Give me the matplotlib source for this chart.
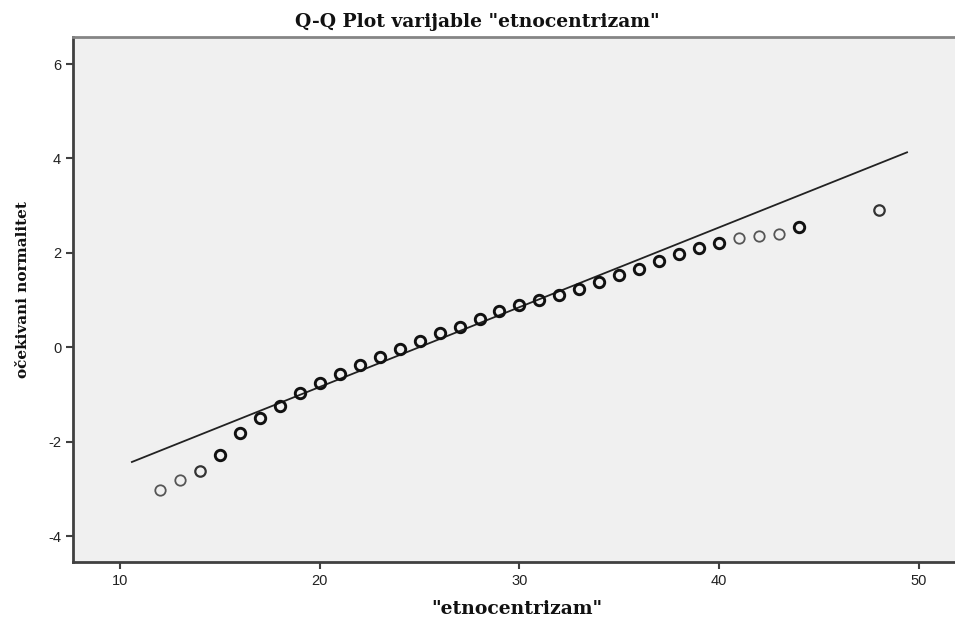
import matplotlib.pyplot as plt

plt.rcParams['axes.unicode_minus'] = False

# observed scores and their expected normal values
scores = [12, 13, 14, 15, 16, 17, 18, 19, 20, 21, 22, 23, 24, 25, 26, 27, 28,
          29, 30, 31, 32, 33, 34, 35, 36, 37, 38, 39, 40, 41, 42, 43, 44, 48]
expected = [-3.03, -2.82, -2.63, -2.29, -1.82, -1.50, -1.25, -0.97, -0.76,
            -0.57, -0.38, -0.21, -0.04, 0.13, 0.30, 0.44, 0.59, 0.76, 0.89,
            1.00, 1.10, 1.23, 1.38, 1.53, 1.65, 1.82, 1.97, 2.10, 2.20, 2.31,
            2.35, 2.39, 2.54, 2.90]
# scores with a single case are drawn lighter
single = [12, 13, 41, 42, 43]
few = [14, 48]

line_x = [10.6, 49.4]
line_y = [-2.43, 4.13]

fig = plt.figure(figsize=(9.55, 6.19), dpi=100)
ax = fig.add_axes([0.0764, 0.092, 0.9236, 0.848])
ax.set_facecolor('#f0f0f0')

ax.plot(line_x, line_y, color='#222222', lw=1.3)

for s, e in zip(scores, expected):
    if s in single:
        ec, lw = '#555555', 1.3
    elif s in few:
        ec, lw = '#333333', 1.6
    else:
        ec, lw = '#111111', 2.1
    ax.plot(s, e, 'o', ms=7.5, mfc='none', mec=ec, mew=lw)

ax.set_xlim(7.65, 51.8)
ax.set_ylim(-4.55, 6.57)
ax.set_xticks([10, 20, 30, 40, 50])
ax.set_yticks([-4, -2, 0, 2, 4, 6])

for side in ['left', 'bottom']:
    ax.spines[side].set_color('#404040')
    ax.spines[side].set_linewidth(2)
ax.spines['top'].set_color('#858585')
ax.spines['top'].set_linewidth(2)
ax.spines['right'].set_visible(False)
ax.tick_params(length=5, width=1.5, color='#404040', labelsize=10.5,
               labelcolor='#222222')
for lab in ax.get_xticklabels() + ax.get_yticklabels():
    lab.set_family('Liberation Sans')

serif = dict(family='DejaVu Serif', weight='bold', color='#111111')
fig.text(0.5, 0.964, 'Q-Q Plot varijable "etnocentrizam"', ha='center',
         va='center', fontsize=13.5, **serif)
fig.text(0.024, 0.532, 'očekivani normalitet', rotation=90, ha='center',
         va='center', fontsize=11, **serif)
fig.text(0.541, 0.016, '"etnocentrizam"', ha='center', va='center',
         fontsize=13.5, **serif)

fig.savefig('out.png', dpi=100)
